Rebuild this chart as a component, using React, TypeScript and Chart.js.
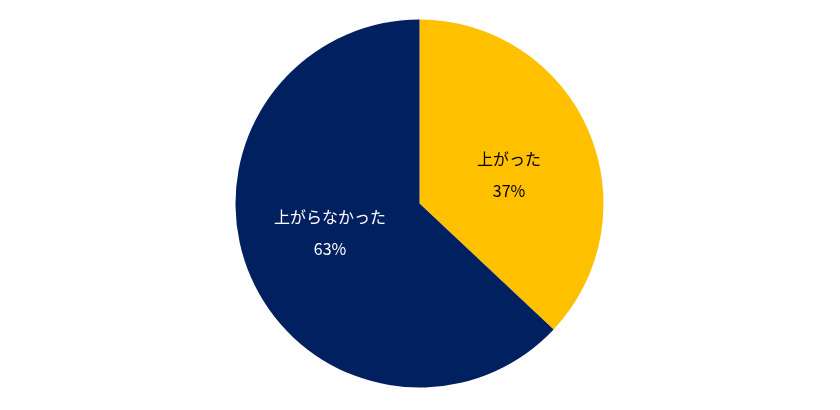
import React, { useEffect, useRef } from "react";
import { Chart, registerables } from "chart.js";

Chart.register(...registerables);

const categories: string[] = ["上がった", "上がらなかった"];
const values: number[] = [37, 63];
const sliceColors: string[] = ["#FFC000", "#002060"];
const labelColors: string[] = ["#000000", "#FFFFFF"];

const FONT = '"Noto Sans CJK JP", "Noto Sans", sans-serif';

const sliceLabels = {
  id: "sliceLabels",
  afterDatasetsDraw(chart: any) {
    const ctx = chart.ctx;
    const meta = chart.getDatasetMeta(0);
    const total = values.reduce((a, b) => a + b, 0);
    ctx.save();
    ctx.textAlign = "center";
    ctx.textBaseline = "middle";
    ctx.font = `16px ${FONT}`;
    meta.data.forEach((arc: any, i: number) => {
      const mid = (arc.startAngle + arc.endAngle) / 2;
      const d = arc.outerRadius * 0.53;
      const x = arc.x + Math.cos(mid) * d;
      const y = arc.y + Math.sin(mid) * d * 0.75;
      ctx.fillStyle = labelColors[i];
      ctx.fillText(categories[i], x, y - 16);
      ctx.fillText(`${Math.round((values[i] / total) * 100)}%`, x, y + 16);
    });
    ctx.restore();
  },
};

export default function App() {
  const ref = useRef<HTMLCanvasElement | null>(null);
  useEffect(() => {
    if (!ref.current) return;
    const chart = new Chart(ref.current, {
      type: "pie",
      data: {
        labels: categories,
        datasets: [
          {
            data: values,
            backgroundColor: sliceColors,
            borderWidth: 0,
          },
        ],
      },
      options: {
        animation: false,
        responsive: false,
        maintainAspectRatio: false,
        layout: { padding: { top: 19.5, bottom: 22.5, left: 0, right: 1 } },
        plugins: {
          legend: { display: false },
          tooltip: { enabled: false },
        },
      },
      plugins: [sliceLabels],
    });
    return () => chart.destroy();
  }, []);
  return (
    <div style={{ position: "fixed", left: 0, top: 0, width: 840, height: 410, background: "#fff" }}>
      <canvas ref={ref} width={840} height={410} style={{ width: 840, height: 410 }} />
    </div>
  );
}
